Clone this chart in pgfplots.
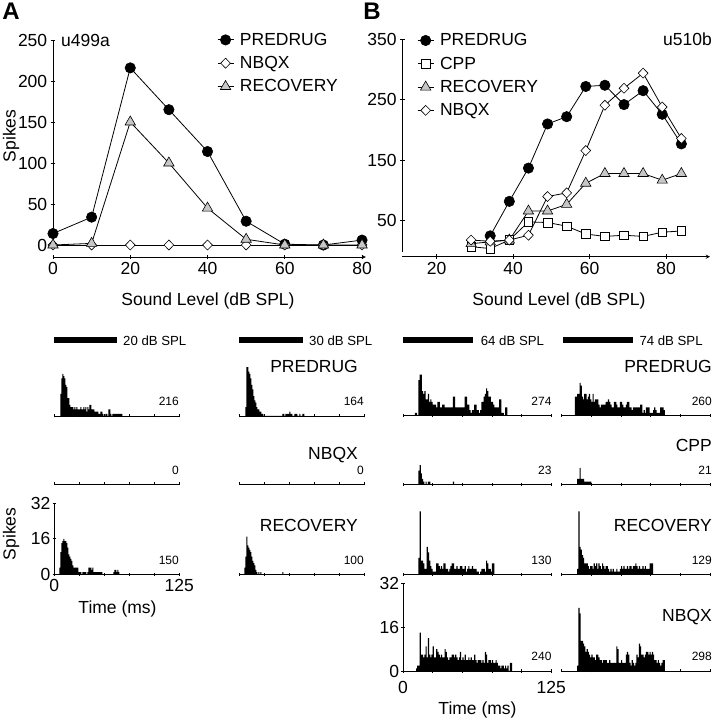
\documentclass[border=0pt]{standalone}
\usepackage{fontspec}
\setmainfont{Liberation Sans}
\usepackage{pgfplots}
\pgfplotsset{compat=1.18}
\newcommand{\fs}[1]{\fontsize{#1}{#1}\selectfont}
\definecolor{recgray}{gray}{0.78}
\pgfplotsset{
  common/.style={scale only axis, clip=false, anchor=south west,
    /pgf/number format/assume math mode=true,
    tick label style={font=\fs{17.5}},
    axis line style={-, line width=0.9pt},
    tick align=outside, tick style={black, line width=0.9pt}},
  top/.style={common, axis lines=left, separate axis lines, y axis line style={draw=none},
    major tick length=4.5pt,
    legend style={draw=none, fill=none, font=\fs{17.5}, inner sep=0pt, row sep=8.7pt,
      nodes={inner sep=0pt, text height=12.6pt, text depth=2pt}},
    legend cell align=left},
  pd/.style={black, line width=0.8pt, mark=*, mark size=5.2pt, mark options={fill=black, line width=0.6pt}},
  nb/.style={black, line width=0.8pt, mark=diamond*, mark size=5pt, mark options={fill=white, xscale=1.3, line width=0.6pt}},
  rc/.style={black, line width=0.8pt, mark=triangle*, mark size=6pt, mark options={fill=recgray, line width=0.6pt}},
  cp/.style={black, line width=0.8pt, mark=square*, mark size=4.3pt, mark options={fill=white, line width=0.6pt}},
  hist/.style={common, xmin=0, xmax=125, ymin=0, ymax=32, axis lines=left, separate axis lines,
    axis line style={-, line width=0.8pt}, y axis line style={draw=none},
    xtick={0,25,50,75,100,125}, xticklabels={}, ytick=\empty, major tick length=3pt,
    tick style={black, line width=0.7pt}},
  yhist/.style={y axis line style={draw=black}, ytick={0,16,32}, major tick length=3.5pt,
    yticklabel style={inner sep=2pt}, xticklabels={0,,,,,125}},
  histA/.style={hist, width=125pt, height=71pt},
  histB/.style={hist, width=148.3pt, height=87.7pt},
  bars/.style={const plot mark left, fill=black, draw=none, mark=none},
}
\begin{document}
\begin{tikzpicture}[x=1pt,y=1pt]
\useasboundingbox (0,0) rectangle (714,720);

% ---------------- Panel A top ----------------
\begin{axis}[top, at={(53pt,463pt)}, width=312.9pt, height=217pt,
  xmin=0, xmax=81, ymin=-14.6, ymax=250,
  xtick={0,20,40,60,80}, ytick={0,50,100,150,200,250},
  legend style={at={(axis description cs:0.524,1.035)}, anchor=north west},
  legend image code/.code={\draw[mark repeat=2,mark phase=2,#1] plot coordinates {(0pt,0pt) (8pt,0pt) (16pt,0pt)}; \path (22pt,0pt);}]
\draw[line width=0.9pt] (axis cs:0,-3) -- (axis cs:0,250);
\addplot[pd] coordinates {(0,14)(10,34)(20,216)(30,165)(40,114)(50,29)(60,1)(70,0)(80,6)};
\addlegendentry{PREDRUG}
\addplot[nb] coordinates {(0,0)(10,0)(20,0)(30,0)(40,0)(50,0)(60,0)(70,0)(80,0)};
\addlegendentry{NBQX}
\addplot[rc] coordinates {(0,0)(10,2)(20,150)(30,100)(40,45)(50,7)(60,0)(70,0)(80,0)};
\addlegendentry{RECOVERY}
\end{axis}

% ---------------- Panel B top ----------------
\begin{axis}[top, at={(402.3pt,463.3pt)}, width=307.7pt, height=217.4pt,
  xmin=11, xmax=91.5, ymin=-9.5, ymax=350,
  xtick={20,40,60,80}, ytick={50,150,250,350},
  legend style={at={(axis description cs:0.048,1.029)}, anchor=north west},
  legend image code/.code={\draw[mark repeat=2,mark phase=2,#1] plot coordinates {(0pt,0pt) (8pt,0pt) (16pt,0pt)}; \path (22pt,0pt);}]
\draw[line width=0.9pt] (axis cs:11,-2) -- (axis cs:11,350);
\addplot[pd] coordinates {(34,25)(39,82)(44,137)(49,210)(54,222)(59,272)(64,274)(69,242)(74,265)(79,226)(84,177)};
\addlegendentry{PREDRUG}
\addplot[cp] coordinates {(29,7)(34,4)(39,18)(44,48)(49,47)(54,41)(59,28)(64,24)(69,26)(74,24)(79,31)(84,33)};
\addlegendentry{CPP}
\addplot[rc] coordinates {(29,12)(34,15)(39,18)(44,66)(49,66)(54,77)(59,112)(64,128)(69,128)(74,128)(79,117)(84,128)};
\addlegendentry{RECOVERY}
\addplot[nb] coordinates {(29,18)(34,16)(39,18)(44,26)(49,90)(54,96)(59,166)(64,241)(69,269)(74,294)(79,238)(84,186)};
\addlegendentry{NBQX}
\end{axis}

% ---------------- Histograms A ----------------
\begin{axis}[histA, at={(54.3pt,304pt)}]
\addplot[bars] coordinates {(6,10)(7,17)(8,19)(9,18)(10,17)(11,14)(12,13)(13,8)(14,8)(15,5)(16,4)(17,4)(18,4)(19,3)(20,4)(21,3)(22,4)(23,3)(24,3)(25,3)(26,4)(27,3)(28,3)(29,4)(30,3)(31,4)(32,2)(33,4)(34,3)(35,5)(36,5)(37,3)(38,3)(39,3)(40,2)(41,2)(42,2)(43,2)(44,1)(45,1)(46,2)(47,2)(48,1)(49,0)(51,1)(52,1)(53,0)(54,3)(55,3)(56,1)(57,0)(58,1)(59,1)(60,1)(61,1)(62,1)(63,1)(64,1)(65,1)(66,1)(67,1)(68,0)} \closedcycle;
\end{axis}
\begin{axis}[histA, at={(239.3pt,304pt)}]
\addplot[bars] coordinates {(6,4)(7,22)(8,22)(9,20)(10,19)(11,17)(12,14)(13,12)(14,9)(15,7)(16,6)(17,4)(18,3)(19,3)(20,2)(21,2)(22,1)(23,1)(24,0)(43,1)(45,0)(46,1)(47,1)(48,1)(49,1)(50,2)(51,1)(52,1)(53,0)(55,1)(56,1)(57,1)(58,0)(60,1)(61,0)(63,1)(64,1)(65,0)} \closedcycle;
\end{axis}
\begin{axis}[histA, at={(54.3pt,236pt)}]
\end{axis}
\begin{axis}[histA, at={(239.3pt,236pt)}]
\end{axis}
\begin{axis}[histA, yhist, at={(54.3pt,145.7pt)}]
\addplot[bars] coordinates {(5,3)(6,10)(7,14)(8,15)(9,16)(10,15)(11,15)(12,14)(13,12)(14,9)(15,8)(16,7)(17,6)(18,4)(19,3)(20,3)(21,3)(22,3)(23,3)(24,1)(25,1)(26,1)(27,0)(28,1)(29,1)(30,1)(31,1)(32,0)(33,1)(34,3)(35,3)(36,3)(37,2)(38,3)(39,1)(40,1)(41,1)(42,1)(43,1)(44,1)(45,1)(46,1)(47,1)(48,0)(59,1)(60,2)(61,2)(62,1)(63,2)(64,1)(65,0)} \closedcycle;
\end{axis}
\begin{axis}[histA, at={(239.3pt,145.7pt)}]
\addplot[bars] coordinates {(5,3)(6,8)(7,17)(8,13)(9,12)(10,11)(11,10)(12,8)(13,6)(14,5)(15,4)(16,2)(17,1)(18,0)(19,1)(20,0)(21,1)(22,0)(43,1)(44,0)} \closedcycle;
\end{axis}

% ---------------- Histograms B ----------------
\begin{axis}[histB, at={(403pt,304.3pt)}]
\addplot[bars] coordinates {(10,1)(12,0)(13,13)(14,15)(15,15)(16,9)(17,8)(18,9)(19,6)(20,6)(21,8)(22,5)(23,6)(24,5)(25,4)(26,4)(27,4)(28,3)(29,5)(30,5)(31,3)(32,3)(33,4)(34,4)(35,3)(36,3)(37,3)(38,3)(39,3)(40,3)(41,3)(42,7)(43,7)(44,3)(45,3)(46,3)(47,3)(48,3)(49,3)(50,3)(51,3)(52,7)(53,7)(54,4)(55,4)(56,2)(57,1)(58,2)(59,2)(60,4)(61,4)(62,2)(63,2)(64,1)(65,2)(66,5)(67,5)(68,7)(69,8)(70,10)(71,9)(72,7)(73,7)(74,5)(75,5)(76,4)(77,3)(78,3)(79,3)(80,3)(81,6)(82,6)(83,1)(84,1)(85,0)(86,3)(87,3)(88,0)} \closedcycle;
\end{axis}
\begin{axis}[histB, at={(561.7pt,304.3pt)}]
\addplot[bars] coordinates {(11,7)(12,7)(13,8)(14,8)(15,12)(16,11)(17,7)(18,6)(19,8)(20,8)(21,6)(22,7)(23,8)(24,6)(25,5)(26,8)(27,5)(28,6)(29,6)(30,6)(31,4)(32,3)(33,4)(34,4)(35,4)(36,4)(37,5)(38,5)(39,6)(40,5)(41,4)(42,3)(43,3)(44,5)(45,5)(46,4)(47,3)(48,3)(49,5)(50,5)(51,4)(52,3)(53,3)(54,4)(55,5)(56,5)(57,3)(58,3)(59,2)(60,3)(61,3)(62,3)(63,3)(64,3)(65,3)(66,4)(67,4)(68,1)(69,2)(70,1)(71,3)(72,3)(73,3)(74,1)(75,1)(76,1)(77,2)(78,3)(79,2)(80,1)(81,1)(82,1)(83,3)(84,3)(85,3)(86,2)(87,0)} \closedcycle;
\end{axis}
\begin{axis}[histB, at={(403pt,235.7pt)}]
\addplot[bars] coordinates {(13,5)(14,7)(15,4)(16,2)(17,1)(18,0)(19,1)(20,0)(21,1)(22,1)(23,0)(42,1)(43,0)} \closedcycle;
\end{axis}
\begin{axis}[histB, at={(561.7pt,235.7pt)}]
\addplot[bars] coordinates {(13,2)(14,2)(15,6)(16,2)(17,2)(18,2)(19,1)(20,1)(21,1)(22,1)(23,1)(24,1)(25,0)} \closedcycle;
\end{axis}
\begin{axis}[histB, at={(403pt,145.7pt)}]
\addplot[bars] coordinates {(13,6)(14,23)(15,5)(16,5)(17,4)(18,2)(19,2)(20,10)(21,8)(22,5)(23,3)(24,2)(25,1)(26,1)(27,1)(28,4)(29,4)(30,3)(31,2)(32,3)(33,2)(34,4)(35,4)(36,2)(37,2)(38,1)(39,2)(40,3)(41,4)(42,4)(43,2)(44,2)(45,3)(46,2)(47,2)(48,3)(49,3)(50,2)(51,2)(52,3)(53,1)(54,2)(55,3)(56,2)(57,2)(58,3)(59,2)(60,2)(61,2)(62,1)(63,1)(64,0)(65,1)(66,2)(67,2)(68,2)(69,1)(70,5)(71,4)(72,2)(73,2)(74,1)(75,4)(76,4)(77,0)} \closedcycle;
\end{axis}
\begin{axis}[histB, at={(561.7pt,145.7pt)}]
\addplot[bars] coordinates {(13,2)(14,23)(15,10)(16,9)(17,7)(18,6)(19,4)(20,4)(21,4)(22,3)(23,2)(24,3)(25,3)(26,2)(27,4)(28,3)(29,4)(30,2)(31,4)(32,3)(33,2)(34,4)(35,3)(36,2)(37,3)(38,3)(39,2)(40,1)(41,2)(42,1)(43,2)(44,1)(45,1)(46,2)(47,1)(48,1)(49,2)(50,3)(51,2)(52,3)(53,2)(54,2)(55,3)(56,2)(57,3)(58,3)(59,2)(60,3)(61,3)(62,4)(63,3)(64,2)(65,3)(66,2)(67,2)(68,3)(69,2)(70,3)(71,2)(72,2)(73,2)(74,4)(75,4)(76,4)(77,0)} \closedcycle;
\end{axis}
\begin{axis}[histB, yhist, at={(403pt,49pt)}, xticklabel style={yshift=-5pt}]
\addplot[bars] coordinates {(11,1)(12,2)(13,2)(14,14)(15,6)(16,6)(17,5)(18,6)(19,9)(20,5)(21,12)(22,6)(23,5)(24,6)(25,9)(26,5)(27,5)(28,8)(29,7)(30,6)(31,5)(32,6)(33,5)(34,5)(35,8)(36,7)(37,5)(38,4)(39,5)(40,5)(41,6)(42,6)(43,5)(44,6)(45,5)(46,4)(47,5)(48,7)(49,4)(50,5)(51,4)(52,6)(53,4)(54,4)(55,5)(56,4)(57,5)(58,4)(59,4)(60,6)(61,4)(62,3)(63,4)(64,4)(65,4)(66,3)(67,4)(68,3)(69,7)(70,6)(71,3)(72,4)(73,4)(74,3)(75,4)(76,3)(77,3)(78,4)(79,3)(80,2)(81,2)(82,1)(83,2)(84,2)(85,1)(86,2)(87,1)(88,2)(89,0)(90,3)(91,3)(92,0)} \closedcycle;
\end{axis}
\begin{axis}[histB, at={(561.7pt,49pt)}]
\addplot[bars] coordinates {(13,2)(14,23)(15,21)(16,11)(17,11)(18,10)(19,9)(20,7)(21,8)(22,7)(23,6)(24,5)(25,6)(26,5)(27,5)(28,4)(29,6)(30,6)(31,5)(32,4)(33,4)(34,3)(35,4)(36,4)(37,4)(38,3)(39,3)(40,4)(41,3)(42,3)(43,3)(44,3)(45,3)(46,9)(47,8)(48,3)(49,3)(50,4)(51,3)(52,3)(53,3)(54,6)(55,7)(56,6)(57,3)(58,2)(59,4)(60,3)(61,2)(62,3)(63,6)(64,5)(65,10)(66,9)(67,6)(68,6)(69,5)(70,6)(71,7)(72,7)(73,6)(74,7)(75,6)(76,7)(77,6)(78,4)(79,4)(80,3)(81,4)(82,3)(83,2)(84,3)(85,4)(86,4)(87,0)} \closedcycle;
\end{axis}

% ---------------- Text and stimulus bars ----------------
\node[font=\bfseries\fs{24}] at (11,709) {A};
\node[font=\bfseries\fs{24}] at (372,709) {B};
\node[anchor=west, inner sep=0pt, font=\fs{17.5}] at (61,680) {u499a};
\node[anchor=east, inner sep=0pt, font=\fs{17.5}] at (712,680.7) {u510b};
\node[rotate=90, font=\fs{17.5}, inner sep=0pt] at (11,584) {Spikes};
\node[rotate=90, font=\fs{17.5}, inner sep=0pt] at (11,186) {Spikes};
\node[font=\fs{17.5}, inner sep=0pt] at (208,419) {Sound Level (dB SPL)};
\node[font=\fs{17.5}, inner sep=0pt] at (559,419) {Sound Level (dB SPL)};
\node[font=\fs{17.5}, inner sep=0pt] at (117.5,111) {Time (ms)};
\node[font=\fs{17.5}, inner sep=0pt] at (477.5,10) {Time (ms)};

\fill (54.3,376.7) rectangle (116.7,382.7);
\node[anchor=west, inner sep=0pt, font=\fs{13.2}] at (123,379.7) {20 dB SPL};
\fill (239.3,376.7) rectangle (303,382.7);
\node[anchor=west, inner sep=0pt, font=\fs{13.2}] at (309,379.7) {30 dB SPL};
\fill (403.3,376.7) rectangle (473.3,382.7);
\node[anchor=west, inner sep=0pt, font=\fs{13.2}] at (480.7,379.7) {64 dB SPL};
\fill (562.7,376.7) rectangle (633.3,382.7);
\node[anchor=west, inner sep=0pt, font=\fs{13.2}] at (639.3,379.7) {74 dB SPL};

\begin{scope}[every node/.style={anchor=east, inner sep=0pt, font=\fs{17.5}}]
\node at (358,354) {PREDRUG};
\node at (358,265) {NBQX};
\node at (358,195) {RECOVERY};
\node at (712,353.3) {PREDRUG};
\node at (712,275) {CPP};
\node at (712,195) {RECOVERY};
\node at (712,102.7) {NBQX};
\end{scope}
\begin{scope}[every node/.style={anchor=east, inner sep=0pt, font=\fs{12}}]
\node at (179,319) {216};
\node at (179,249.3) {0};
\node at (179,160) {150};
\node at (364,319) {164};
\node at (364,249.3) {0};
\node at (364,160) {100};
\node at (551.7,319) {274};
\node at (551.7,249.3) {23};
\node at (551.7,159.3) {130};
\node at (551.7,63.3) {240};
\node at (712,319) {260};
\node at (712,249.3) {21};
\node at (712,159.3) {129};
\node at (712,63.3) {298};
\end{scope}
\end{tikzpicture}
\end{document}
